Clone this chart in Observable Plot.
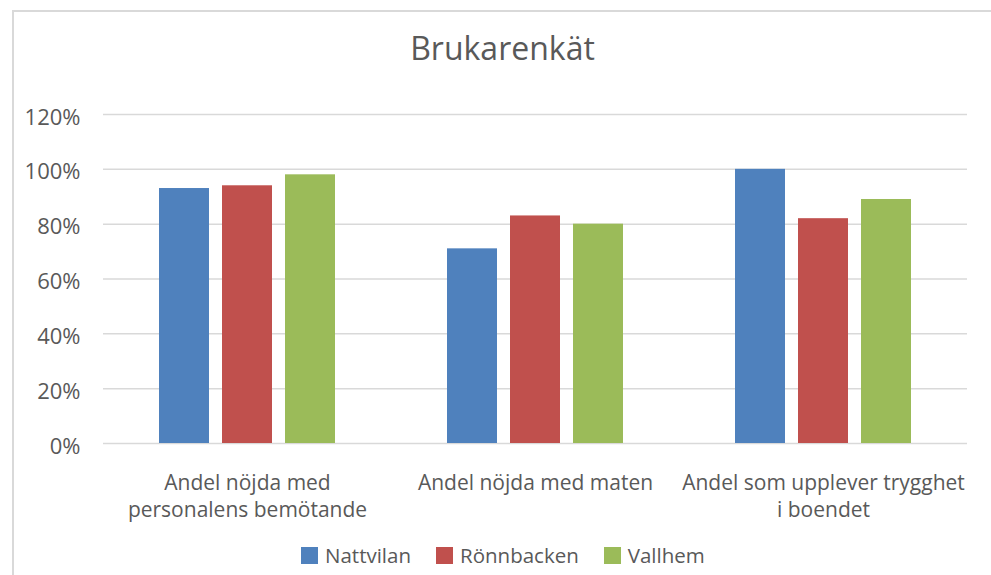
<!DOCTYPE html>
<html>
<head>
<meta charset="utf-8">
<script src="https://cdn.jsdelivr.net/npm/d3@7"></script>
<script src="https://cdn.jsdelivr.net/npm/@observablehq/plot@0.6"></script>
<style>
  html, body { margin: 0; padding: 0; background: #fff; }
  #wrap { position: relative; width: 991px; height: 575px; overflow: hidden; font-family: "Open Sans", sans-serif; color: #595959; }
  #frame { position: absolute; left: 12px; top: 10px; width: 990px; height: 600px; border-left: 2px solid #d9d9d9; border-top: 2px solid #d9d9d9; box-sizing: border-box; z-index: 2; pointer-events: none; }
  #title { position: absolute; left: 0; width: 1005px; top: 28px; text-align: center; font-size: 32px; line-height: 40px; color: #595959; }
  #chart { position: absolute; left: 0; top: 90px; }
  #legend { position: absolute; left: 301px; top: 541px; display: flex; align-items: center; font-size: 20.5px; line-height: 28px; color: #595959; }
  #legend .item { display: flex; align-items: center; margin-right: 25px; }
  #legend .sw { width: 17px; height: 17px; margin-right: 7px; }
</style>
</head>
<body>
<div id="wrap">
  <div id="frame"></div>
  <div id="title">Brukarenkät</div>
  <div id="chart"></div>
  <div id="legend"></div>
</div>
<script>
const categories = ["Andel nöjda med personalens bemötande", "Andel nöjda med maten", "Andel som upplever trygghet i boendet"];
const categoryLabels = ["Andel nöjda med\npersonalens bemötande", "Andel nöjda med maten", "Andel som upplever trygghet\ni boendet"];
const series = ["Nattvilan", "Rönnbacken", "Vallhem"];
const nattvilan = [0.93, 0.71, 1.00];
const ronnbacken = [0.94, 0.83, 0.82];
const vallhem = [0.98, 0.80, 0.89];
const colors = ["#4F81BD", "#C0504D", "#9BBB59"];
const yTicks = [0, 0.2, 0.4, 0.6, 0.8, 1.0, 1.2];

const seriesValues = [nattvilan, ronnbacken, vallhem];
const rows = [];
categories.forEach((c, i) => {
  series.forEach((s, j) => rows.push({category: c, series: s, value: seriesValues[j][i]}));
});
const labelRows = categories.map((c, i) => ({category: c, label: categoryLabels[i]}));

const chart = Plot.plot({
  width: 991,
  height: 440,
  marginLeft: 102,
  marginRight: 23,
  marginTop: 24,
  marginBottom: 87,
  style: {background: "transparent", fontFamily: "Open Sans, sans-serif", fontSize: "20px", color: "#595959"},
  fx: {domain: categories, padding: 0, axis: null},
  x: {domain: series, paddingInner: 0.203, paddingOuter: 0.855, axis: null},
  y: {domain: [0, 1.2], axis: null},
  color: {domain: series, range: colors},
  marks: [
    Plot.ruleY(yTicks, {stroke: "#d9d9d9", strokeWidth: 1.5}),
    Plot.axisY({ticks: yTicks, tickFormat: d3.format(".0%"), tickSize: 0, tickPadding: 23, dy: 3, fontSize: 22, fill: "#595959", label: null}),
    Plot.barY(rows, {fx: "category", x: "series", y: "value", fill: "series"}),
    Plot.text(labelRows, {fx: "category", text: "label", frameAnchor: "bottom", lineAnchor: "top", dy: 27, lineHeight: 1.3, fontSize: 21, fill: "#595959"})
  ]
});
document.getElementById("chart").appendChild(chart);

const legend = document.getElementById("legend");
series.forEach((s, i) => {
  const item = document.createElement("div");
  item.className = "item";
  const sw = document.createElement("div");
  sw.className = "sw";
  sw.style.background = colors[i];
  const t = document.createElement("span");
  t.textContent = s;
  item.appendChild(sw);
  item.appendChild(t);
  legend.appendChild(item);
});
</script>
</body>
</html>
